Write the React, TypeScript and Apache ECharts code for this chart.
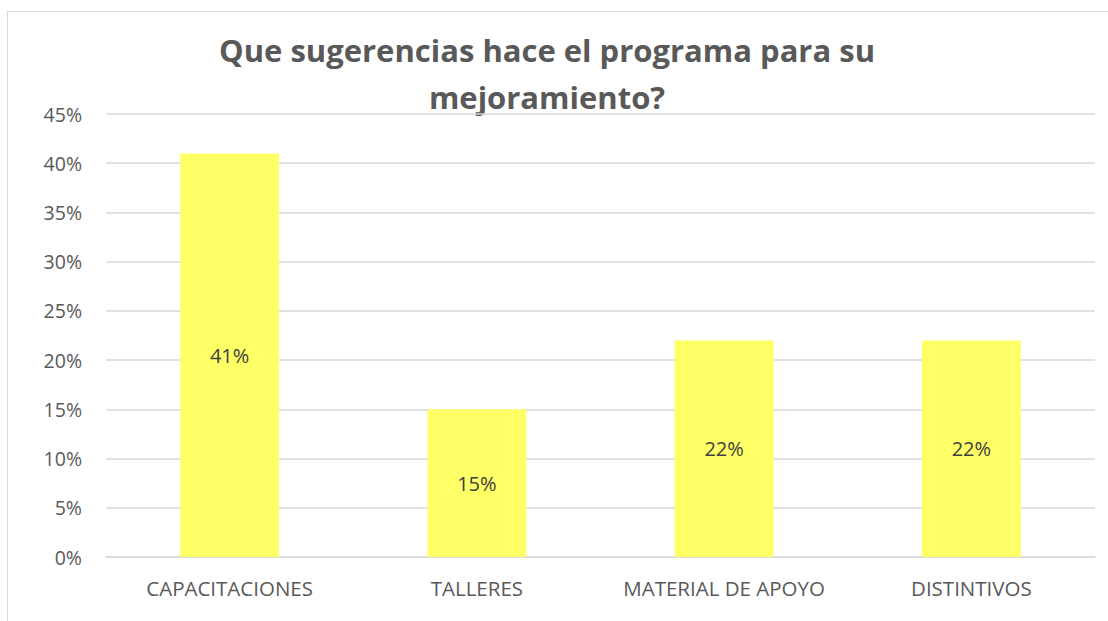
import React, { useEffect, useRef } from "react";
import * as echarts from "echarts";

const categories = ["CAPACITACIONES", "TALLERES", "MATERIAL DE APOYO", "DISTINTIVOS"];
const values = [41, 15, 22, 22];
const titleLines = ["Que sugerencias hace el programa para su", "mejoramiento?"];

const FONT = "'Open Sans', Lato, sans-serif";

export default function App() {
  const ref = useRef<HTMLDivElement>(null);
  useEffect(() => {
    document.body.style.margin = "0";
    const chart = echarts.init(ref.current!, null, { renderer: "svg" });
    chart.setOption({
      animation: false,
      backgroundColor: "#ffffff",
      textStyle: { fontFamily: FONT },
      graphic: [
        {
          type: "line",
          shape: { x1: 7, y1: 11.5, x2: 1108, y2: 11.5 },
          style: { stroke: "#d9d9d9", lineWidth: 1 },
          silent: true,
        },
        {
          type: "line",
          shape: { x1: 7.5, y1: 11, x2: 7.5, y2: 621 },
          style: { stroke: "#d9d9d9", lineWidth: 1 },
          silent: true,
        },
        {
          type: "text",
          x: 547,
          y: 26,
          style: {
            text: titleLines.join("\n"),
            fontFamily: FONT,
            fontWeight: "bold",
            fontSize: 31,
            lineHeight: 47,
            fill: "#595959",
            align: "center",
            verticalAlign: "top",
          },
        },
      ],
      grid: { left: 106, right: 13, top: 114, bottom: 64 },
      xAxis: {
        type: "category",
        data: categories,
        axisLine: { lineStyle: { color: "#d9d9d9", width: 1.5 } },
        axisTick: { show: false },
        axisLabel: { color: "#595959", fontSize: 20.5, margin: 20, interval: 0, fontFamily: FONT },
      },
      yAxis: {
        type: "value",
        min: 0,
        max: 45,
        interval: 5,
        axisLine: { show: false },
        axisTick: { show: false },
        splitLine: { lineStyle: { color: "#d9d9d9", width: 1.5 } },
        axisLabel: { color: "#595959", fontSize: 19.5, margin: 24, formatter: "{value}%", fontFamily: FONT },
      },
      series: [
        {
          type: "bar",
          data: values,
          barWidth: "40%",
          itemStyle: { color: "#ffff66" },
          label: {
            show: true,
            position: "inside",
            formatter: "{c}%",
            color: "#404040",
            fontSize: 20,
            fontFamily: FONT,
          },
        },
      ],
    });
    return () => chart.dispose();
  }, []);
  return <div ref={ref} style={{ position: "absolute", left: 0, top: 0, width: 1108, height: 621 }} />;
}
